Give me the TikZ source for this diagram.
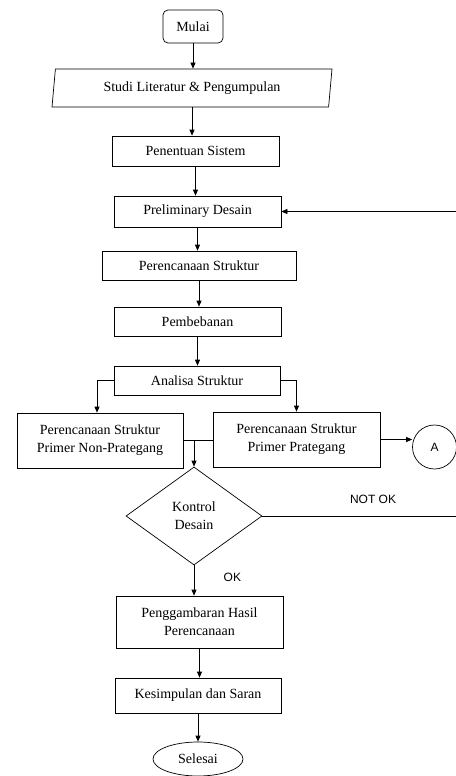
\documentclass[tikz,border=0pt]{standalone}
\usepackage{fontspec}
\setmainfont{Liberation Serif}
\setsansfont{Liberation Sans}
\usetikzlibrary{arrows.meta,positioning,shapes.geometric,calc}

\begin{document}
\begin{tikzpicture}[x=1pt,y=-1pt,>={Triangle[length=6pt,width=5pt]},line width=0.7pt,
  flowbox/.style={draw,inner sep=0pt,align=center,font=\fontsize{14}{18}\selectfont},
  lbl/.style={font=\sffamily\fontsize{12}{14}\selectfont}]
  \useasboundingbox (0,0) rectangle (455,776);
  \node[flowbox,rounded corners=5pt,minimum width=60pt,minimum height=33pt] (mulai) at (193,26.5) {Mulai};
  \node[flowbox,trapezium,trapezium left angle=75,trapezium right angle=105,trapezium stretches body,
        minimum width=280pt,minimum height=38pt] (studi) at (192,88) {Studi Literatur \& Pengumpulan};
  \node[flowbox,minimum width=167pt,minimum height=30pt] (sistem) at (195.5,151) {Penentuan Sistem};
  \node[flowbox,minimum width=167pt,minimum height=31pt] (prelim) at (197.5,211.5) {Preliminary Desain};
  \node[flowbox,minimum width=194pt,minimum height=29pt] (renc) at (199,265.5) {Perencanaan Struktur};
  \node[flowbox,minimum width=167pt,minimum height=29pt] (beban) at (197.5,321.5) {Pembebanan};
  \node[flowbox,minimum width=166pt,minimum height=29pt] (analisa) at (197,380.5) {Analisa Struktur};
  \node[flowbox,minimum width=166pt,minimum height=55pt] (nonpra) at (100,440.5) {Perencanaan Struktur\\Primer Non-Prategang};
  \node[flowbox,minimum width=167pt,minimum height=55pt] (pra) at (296.5,439.5) {Perencanaan Struktur\\Primer Prategang};
  \node[draw,circle,minimum size=44pt,inner sep=0pt,lbl] (konA) at (434.5,447) {A};
  \node[flowbox,diamond,minimum width=136pt,minimum height=98pt] (kontrol) at (194,516) {Kontrol\\Desain};
  \node[flowbox,minimum width=167pt,minimum height=52pt] (gambar) at (199.5,622) {Penggambaran Hasil\\Perencanaan};
  \node[flowbox,minimum width=166pt,minimum height=35pt] (simpul) at (198,695.5) {Kesimpulan dan Saran};
  \node[flowbox,ellipse,minimum width=90pt,minimum height=34pt] (selesai) at (198,759) {Selesai};
  \coordinate (balik) at (460,0);

  \foreach \a/\b in {mulai/studi,studi/sistem,sistem/prelim,prelim/renc,renc/beban,beban/analisa,gambar/simpul,simpul/selesai}
    \draw[->] (\a.south) -- (\a.south |- \b.north);
  \draw[->] (analisa.west) -| ([xshift=-3pt]nonpra.north);
  \draw[->] (analisa.east) -| (pra.north);
  \draw (nonpra.east) -- (nonpra.east -| pra.west);
  \draw[->] (nonpra.east -| kontrol.north) -- (kontrol.north);
  \draw[->] (pra.east) -- (pra.east -| konA.west);
  \draw[->] (kontrol.south) -- node[lbl,right=26pt,pos=0.4]{OK} (kontrol.south |- gambar.north);
  \draw[->] (kontrol.east) -- node[lbl,above=9pt,pos=0.56]{NOT OK} (kontrol.east -| balik)
    -- (balik |- prelim.east) -- (prelim.east);
\end{tikzpicture}
\end{document}
